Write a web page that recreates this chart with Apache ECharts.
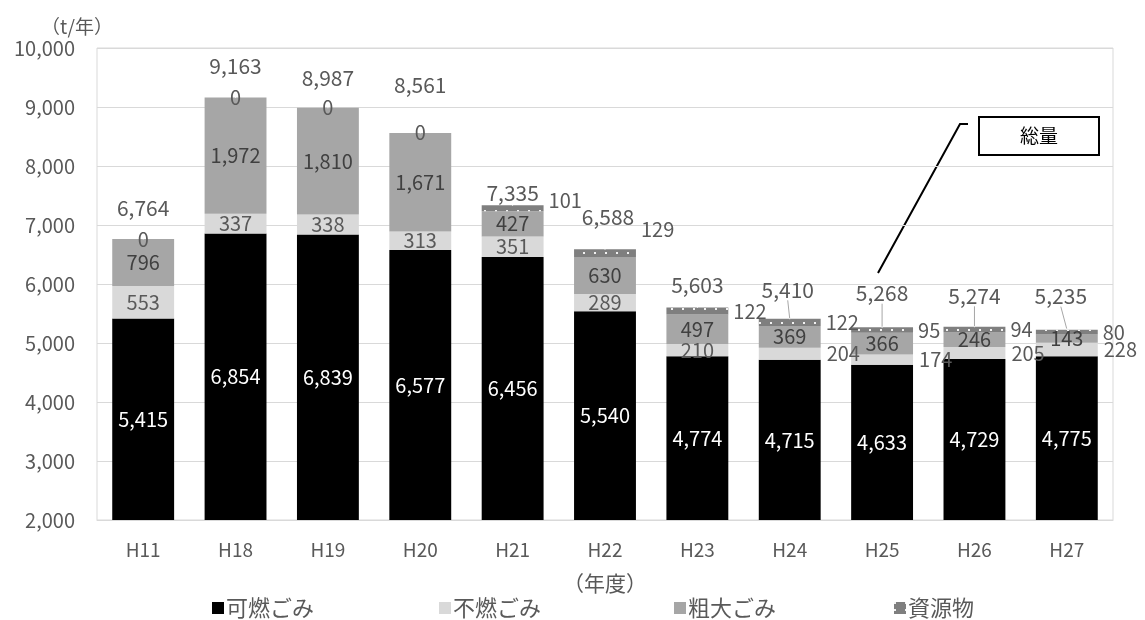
<!DOCTYPE html>
<html>
<head>
<meta charset="utf-8">
<script src="https://cdn.jsdelivr.net/npm/echarts@6/dist/echarts.min.js"></script>
<style>
html,body{margin:0;padding:0;background:#fff;}
#chart{width:1145px;height:620px;}
</style>
</head>
<body>
<div id="chart"></div>
<script>
// ---- data ----
const categories = ['H11','H18','H19','H20','H21','H22','H23','H24','H25','H26','H27'];
const burnable   = [5415, 6854, 6839, 6577, 6456, 5540, 4774, 4715, 4633, 4729, 4775];
const nonBurnable= [553, 337, 338, 313, 351, 289, 210, 204, 174, 205, 228];
const bulky      = [796, 1972, 1810, 1671, 427, 630, 497, 369, 366, 246, 143];
const recyclable = [0, 0, 0, 0, 101, 129, 122, 122, 95, 94, 80];
const totals     = [6764, 9163, 8987, 8561, 7335, 6588, 5603, 5410, 5268, 5274, 5235];
const yTicks     = {min: 2000, max: 10000, interval: 1000};
const seriesNames = ['可燃ごみ','不燃ごみ','粗大ごみ','資源物'];

// ---- label / legend layout (style only) ----
const nonBurnLabelPos = ['inside','inside','inside','inside','inside','inside','inside','right','right','right','right'];
const recycleLabelDy  = [0,0,0,0,-8,-24,0,0,0,0,0];
const totalLift       = [20,20,19,37,1,21,11,18,23,20,22];
const totalDx         = [0,0,0,0,0,3,0,-2,0,0,-6];
const totalLeader     = [false,false,false,false,false,false,false,true,true,true,true];
const legendLeft      = [212, 439, 674, 894];

const FONT = '"Noto Sans CJK JP", "Noto Sans", sans-serif';
const fmt = v => Number(v).toLocaleString('en-US');
const labelGray = '#595959';

const chart = echarts.init(document.getElementById('chart'), null, {renderer:'canvas'});

const baseLabel = {show:true, fontFamily:FONT, fontSize:20, formatter: p => fmt(p.value)};

const option = {
  animation:false,
  textStyle:{fontFamily:FONT},
  grid:{left:97, right:32, top:48, bottom:100, show:true, borderColor:'#d9d9d9', borderWidth:1, containLabel:false},
  legend: seriesNames.map((n,i)=>({
    bottom:1, left:legendLeft[i], itemWidth:12, itemHeight:12, icon:'rect', padding:0,
    textStyle:{fontFamily:FONT, fontSize:22, color:labelGray, padding:[0,0,0,-3]},
    data:[n]
  })),
  xAxis:{
    type:'category', data:categories,
    axisLine:{show:true, lineStyle:{color:'#d9d9d9'}},
    axisTick:{show:false},
    axisLabel:{fontFamily:FONT, fontSize:19, color:labelGray, margin:20},
    name:'（年度）', nameLocation:'middle', nameGap:53,
    nameTextStyle:{fontFamily:FONT, fontSize:21, color:labelGray, padding:[0,0,0,0]}
  },
  yAxis:{
    type:'value', min:yTicks.min, max:yTicks.max, interval:yTicks.interval,
    axisLine:{show:false}, axisTick:{show:false},
    splitLine:{lineStyle:{color:'#d9d9d9'}},
    axisLabel:{fontFamily:FONT, fontSize:20, color:labelGray, margin:22, formatter: v => fmt(v)},
    name:'（t/年）', nameLocation:'end', nameGap:12,
    nameTextStyle:{fontFamily:FONT, fontSize:19, color:labelGray, align:'center', padding:[0,0,0,-40]}
  },
  series:[
    {
      name:seriesNames[0], type:'bar', stack:'total', barWidth:'67%',
      itemStyle:{color:'#000000'},
      label:Object.assign({}, baseLabel, {position:'inside', color:'#ffffff'}),
      data:burnable
    },
    {
      name:seriesNames[1], type:'bar', stack:'total',
      itemStyle:{color:'#d9d9d9'},
      label:Object.assign({}, baseLabel, {color:labelGray}),
      data:nonBurnable.map((v,i)=>({value:v, label:{position:nonBurnLabelPos[i], distance:6}}))
    },
    {
      name:seriesNames[2], type:'bar', stack:'total',
      itemStyle:{color:'#a6a6a6'},
      label:Object.assign({}, baseLabel, {position:'inside', color:'#404040'}),
      data:bulky
    },
    {
      name:seriesNames[3], type:'bar', stack:'total',
      itemStyle:{color:'#7f7f7f', decal:{symbol:'rect', symbolSize:1, color:'rgba(255,255,255,0.9)', dashArrayX:[[2,9]], dashArrayY:[2,5]}},
      label:Object.assign({}, baseLabel, {color:labelGray}),
      labelLayout: p => ({dy: recycleLabelDy[p.dataIndex]}),
      data:recyclable.map(v=>({value:v, label:{position: v===0 ? 'inside' : 'right', distance:5}}))
    },
    {
      name:'総量', type:'scatter', symbol:'circle', symbolSize:1, itemStyle:{color:'#ffffff', opacity:1},
      label:{show:true, position:'top', distance:0, fontFamily:FONT, fontSize:21, color:labelGray, textBorderWidth:0, formatter:p=>fmt(p.value[1])},
      labelLine:{show:false, lineStyle:{color:'#a6a6a6', width:1}},
      labelLayout: p => ({dy: -totalLift[p.dataIndex], dx: totalDx[p.dataIndex]}),
      data:totals.map((v,i)=>({value:[i,v], labelLine:{show: totalLeader[i], lineStyle:{color:'#a6a6a6', width:1}}})),
      emphasis:{disabled:true},
      z:5, silent:true
    }
  ],
  graphic:[
    {type:'polyline', shape:{points:[[878,273],[960,124],[968,124]]}, style:{stroke:'#000', lineWidth:2, fill:null}},
    {type:'rect', shape:{x:979, y:117, width:120, height:38}, style:{stroke:'#000', lineWidth:2, fill:'#fff'}},
    {type:'text', x:1039, y:136, style:{text:'総量', font:'19px '+FONT, fill:'#000', align:'center', verticalAlign:'middle'}}
  ]
};
chart.setOption(option);
</script>
</body>
</html>
